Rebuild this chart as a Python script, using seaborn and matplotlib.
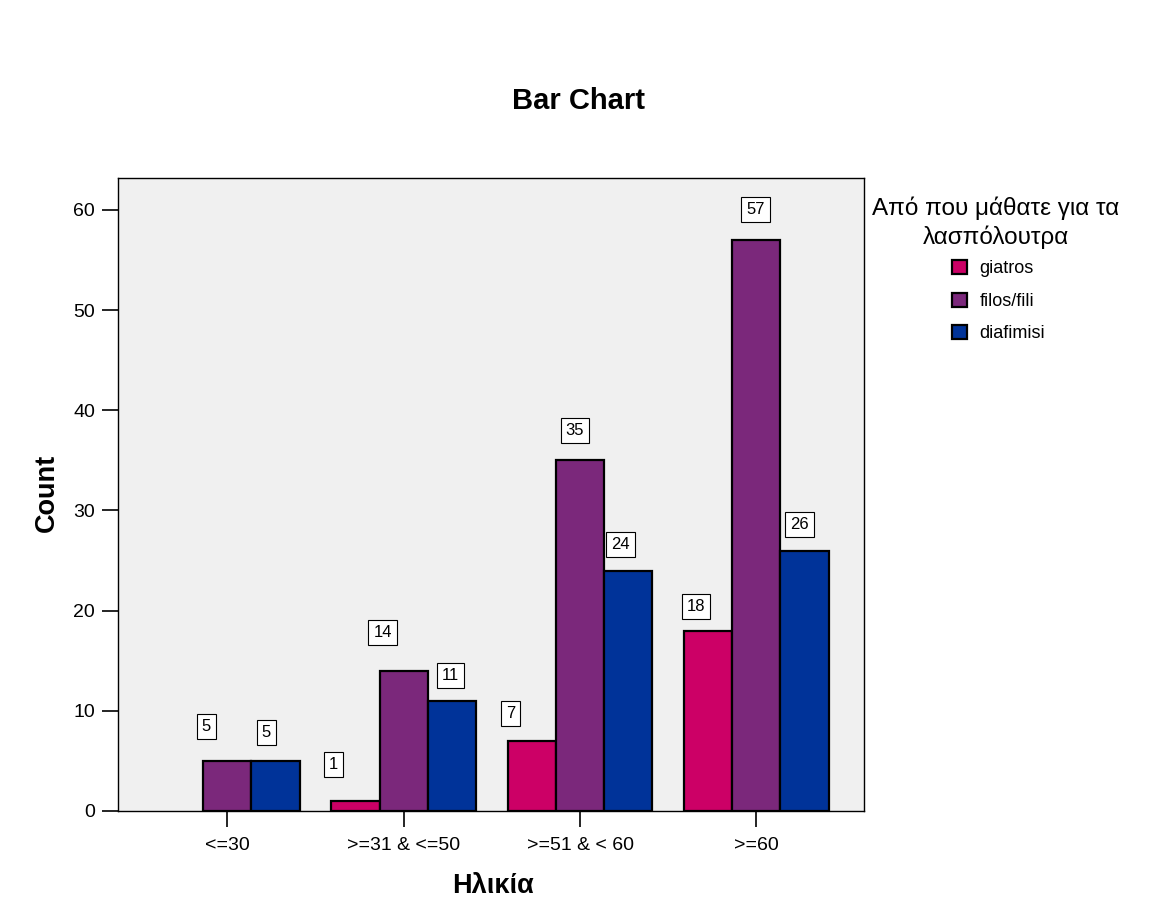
import pandas as pd
import numpy as np
import matplotlib
matplotlib.use("Agg")
import matplotlib.pyplot as plt
import seaborn as sns

# ── Data ────────────────────────────────────────────────────────────────────
age_groups = ["<=30", ">=31 & <=50", ">=51 & < 60", ">=60"]
sources = ["giatros", "filos/fili", "diafimisi"]
giatros = [np.nan, 1, 7, 18]
filos = [5, 14, 35, 57]
diafimisi = [5, 11, 24, 26]

colors = ["#CC0066", "#7B287B", "#003399"]

df = pd.DataFrame(
    {
        "age": age_groups * 3,
        "source": np.repeat(sources, len(age_groups)),
        "count": giatros + filos + diafimisi,
    }
).dropna()

# label offsets in pixels (SPSS nudges the boxes a little)
label_offsets = {
    ("giatros", 1): (-22, 36),
    ("giatros", 2): (-21, 27),
    ("giatros", 3): (-12, 24),
    ("filos/fili", 0): (-21, 34),
    ("filos/fili", 1): (-21, 38),
    ("filos/fili", 2): (-5, 30),
    ("filos/fili", 3): (-1, 31),
    ("diafimisi", 0): (-9, 28),
    ("diafimisi", 1): (-1, 25),
    ("diafimisi", 2): (-8, 26),
    ("diafimisi", 3): (-5, 26),
}

# ── Style ───────────────────────────────────────────────────────────────────
sns.set_theme(style="white")
plt.rcParams["font.family"] = ["Liberation Sans", "DejaVu Sans"]
plt.rcParams["text.color"] = "black"

fig = plt.figure(figsize=(11.53, 9.22), dpi=100)
ax = fig.add_axes([0.1023, 0.1204, 0.6470, 0.6866])
ax.set_facecolor("#F0F0F0")

sns.barplot(
    data=df,
    x="age",
    y="count",
    hue="source",
    order=age_groups,
    hue_order=sources,
    palette=colors,
    width=0.82,
    edgecolor="black",
    linewidth=1.6,
    saturation=1,
    ax=ax,
)

# value labels
for src, cont in zip(sources, ax.containers):
    for bar in cont:
        h = bar.get_height()
        if np.isnan(h):
            continue
        xc = bar.get_x() + bar.get_width() / 2
        gi = int(round(xc))
        dx, dy = label_offsets.get((src, gi), (0, 28))
        ax.annotate(
            f"{int(h)}",
            (xc, h),
            xytext=(dx, dy),
            textcoords="offset pixels",
            ha="center",
            va="center",
            fontsize=12,
            bbox=dict(boxstyle="square,pad=0.3", fc="white", ec="black", lw=0.8),
        )

ax.set_xlim(-0.62, 3.61)
ax.set_ylim(0, 63.2)
ax.set_yticks([0, 10, 20, 30, 40, 50, 60])
ax.set_xlabel("")
ax.set_ylabel("")
ax.tick_params(axis="both", direction="out", length=11.5, width=1.2, colors="black",
               labelsize=14, pad=5, left=True, bottom=True)
ax.tick_params(axis="x", pad=7)
for s in ax.spines.values():
    s.set_color("black")
    s.set_linewidth(1.0)

handles, labels = ax.get_legend_handles_labels()
ax.get_legend().remove()
fig.legend(
    handles,
    labels,
    loc="upper left",
    bbox_to_anchor=(936 / 1153, 1 - 244 / 922),
    frameon=False,
    fontsize=13,
    handlelength=0.8,
    handleheight=0.8,
    handletextpad=0.7,
    labelspacing=0.85,
)
fig.text(996 / 1153, 1 - 223 / 922, "Από που μάθατε για τα\nλασπόλουτρα",
         ha="center", va="center", multialignment="center", fontsize=17.5,
         linespacing=1.32)

fig.text(578 / 1153, 1 - 101 / 922, "Bar Chart", ha="center", va="center",
         fontsize=21, fontweight="bold")
fig.text(47 / 1153, 1 - 493 / 922, "Count", ha="center", va="center",
         rotation=90, fontsize=19.5, fontweight="bold")
fig.text(493 / 1153, 1 - 886 / 922, "Ηλικία", ha="center", va="center",
         fontsize=19.5, fontweight="bold")

fig.savefig("out.png", dpi=100, facecolor="white")
